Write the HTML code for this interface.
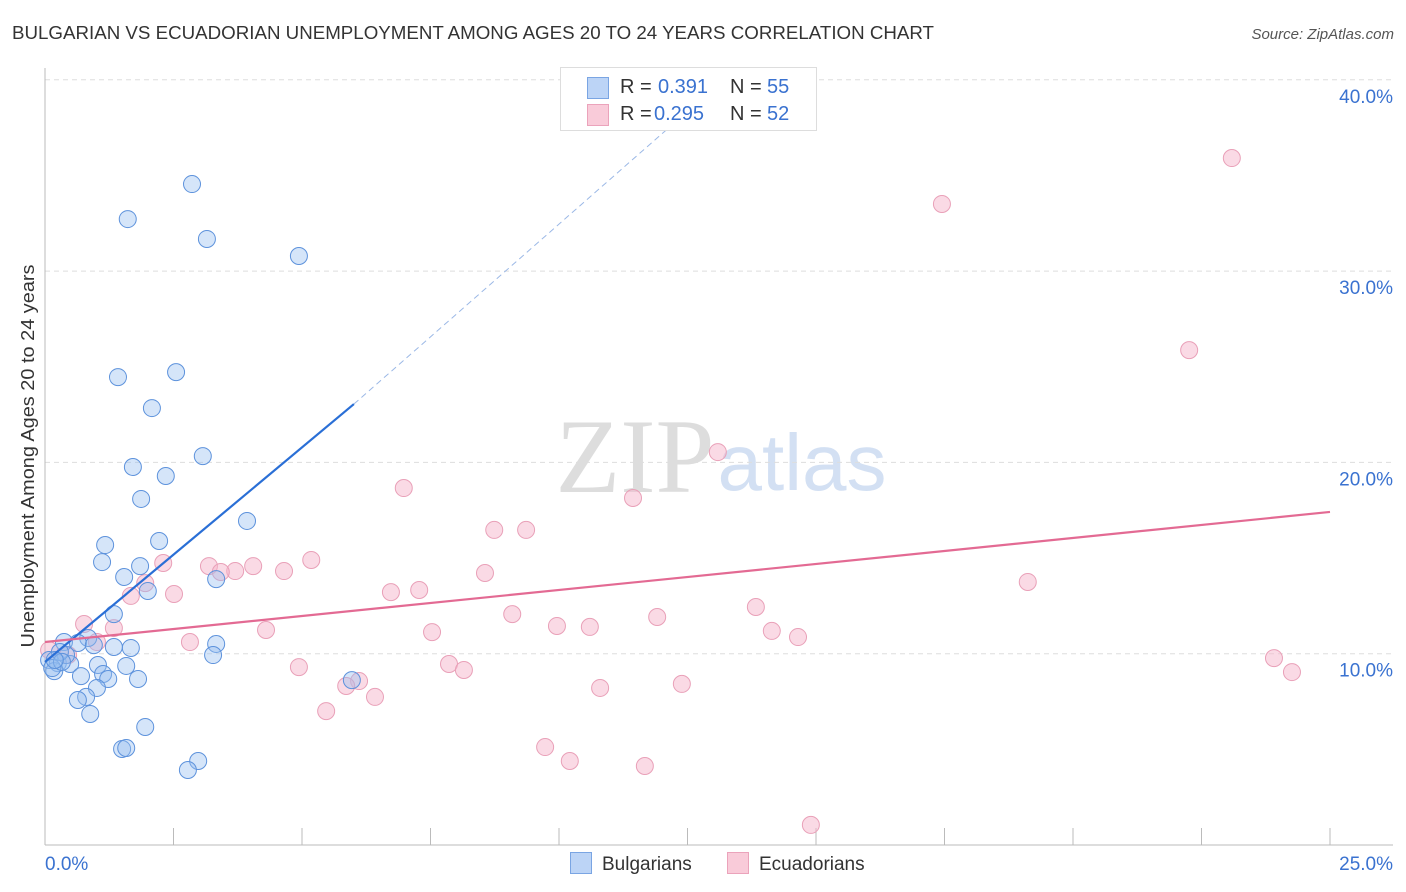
<!DOCTYPE html>
<html><head><meta charset="utf-8"><style>
body{margin:0;background:#fff;font-family:"Liberation Sans",sans-serif;}
#wrap{position:relative;width:1406px;height:892px;overflow:hidden;}
</style></head><body>
<div id="wrap">
<svg id="svg" width="1406" height="892" xmlns="http://www.w3.org/2000/svg">
<text x="12" y="39" font-size="18" fill="#333" textLength="922" lengthAdjust="spacingAndGlyphs">BULGARIAN VS ECUADORIAN UNEMPLOYMENT AMONG AGES 20 TO 24 YEARS CORRELATION CHART</text>
<text x="1394" y="39" font-size="15" fill="#555" font-style="italic" text-anchor="end">Source: ZipAtlas.com</text>
<text x="635" y="492" font-size="106" fill="#ddd" font-family="Liberation Serif,serif" text-anchor="middle">ZIP</text>
<text x="802" y="490" font-size="80" fill="#d3e0f3" text-anchor="middle">atlas</text>
<text transform="translate(34,456) rotate(-90)" font-size="18" fill="#333" text-anchor="middle" textLength="383" lengthAdjust="spacingAndGlyphs">Unemployment Among Ages 20 to 24 years</text>
<g id="grid"></g><g id="marks"></g>
</svg>
</div>
<script>
const xTicks=[0,2.5,5,7.5,10,12.5,15,17.5,20,22.5,25];
const yTicks=[10,20,30,40];
const yTickLabels=["10.0%","20.0%","30.0%","40.0%"];
const blueX=[2.86,1.61,3.15,4.94,1.42,2.55,2.08,3.07,1.71,2.35,1.87,3.93,2.22,1.17,1.11,1.85,1.54,3.33,2.00,1.34,0.37,0.84,0.64,0.95,1.34,1.67,3.33,0.08,0.25,0.49,0.41,1.03,3.27,1.58,0.18,0.70,1.13,1.23,1.81,1.01,0.80,0.64,0.88,5.97,1.95,1.50,1.58,2.98,2.78,0.29,0.14,0.33,0.19];
const blueY=[34.55,32.72,31.68,30.79,24.46,24.72,22.84,20.33,19.76,19.29,18.09,16.94,15.89,15.68,14.79,14.58,14.01,13.90,13.28,12.07,10.61,10.82,10.56,10.45,10.35,10.30,10.51,9.67,9.51,9.46,9.93,9.41,9.93,9.36,9.09,8.83,8.94,8.68,8.68,8.21,7.74,7.58,6.85,8.62,6.17,5.02,5.07,4.39,3.92,10.09,9.25,9.57,9.67];
const pinkX=[23.09,17.45,22.26,13.09,6.98,11.44,8.74,9.36,5.18,2.30,3.19,3.70,4.05,4.65,3.42,8.56,1.95,1.67,2.51,6.73,7.28,0.76,1.34,13.83,9.09,11.91,9.96,10.60,4.30,7.53,14.14,14.65,1.01,2.82,19.12,0.08,0.45,4.94,7.86,8.15,23.91,24.26,6.11,5.86,6.42,10.80,12.39,5.47,9.73,10.21,11.67,14.90];
const pinkY=[35.91,33.51,25.87,20.54,18.66,18.14,16.47,16.47,14.90,14.74,14.58,14.32,14.58,14.32,14.27,14.22,13.69,13.02,13.12,13.22,13.33,11.55,11.34,12.44,12.07,11.92,11.45,11.40,11.24,11.13,11.19,10.87,10.61,10.61,13.75,10.19,9.93,9.30,9.46,9.15,9.77,9.04,8.57,8.31,7.74,8.21,8.42,7.00,5.12,4.39,4.13,1.05];
const blueLine=[0,9.57,6.01,23.05,13.2,40];
const pinkLine=[0,10.61,25,17.41];
const X0=45,X1=1330,Y0=845,YP=19.13;
const sx=v=>X0+(X1-X0)*v/25, sy=v=>Y0-v*YP;
const NS="http://www.w3.org/2000/svg";
function mk(t,a,p){const e=document.createElementNS(NS,t);for(const k in a)e.setAttribute(k,a[k]);p.appendChild(e);return e;}
const g=document.getElementById('grid'),m=document.getElementById('marks');
yTicks.forEach((t,i)=>{
 const l=mk('line',{x1:45,x2:1393,y1:sy(t),y2:sy(t),stroke:'#ddd','stroke-dasharray':'5,4'},g);
 
 
 const tx=mk('text',{x:1393,y:sy(t)+23,'font-size':19,fill:'#3a72d0','text-anchor':'end'},g);
 tx.textContent=yTickLabels[i];
 
 
});
const ax=mk('line',{x1:45,x2:45,y1:68,y2:845,stroke:'#bbb'},g);


const bx=mk('line',{x1:45,x2:1393,y1:845,y2:845,stroke:'#bbb'},g);


xTicks.forEach(t=>{
 const l=mk('line',{x1:sx(t),x2:sx(t),y1:828,y2:845,stroke:'#bbb'},g);
 
 
});
[[0,'start','0.0%',45],[25,'end','25.0%',1393]].forEach(a=>{
 const tx=mk('text',{x:a[3],y:870,'font-size':19,fill:'#3a72d0','text-anchor':a[1]},g);
 tx.textContent=a[2];
 
 
});
function dots(xs,ys,fill,stroke,name){xs.forEach((x,i)=>{
 const c=mk('circle',{cx:sx(x),cy:sy(ys[i]),r:8.5,fill:fill,stroke:stroke,'stroke-width':1},m);
 
 
});}
dots(pinkX,pinkY,'rgba(246,182,204,0.5)','#e9a0b8','ecuadorian-point');
dots(blueX,blueY,'rgba(150,190,240,0.4)','#5d92dc','bulgarian-point');
const bl=mk('line',{x1:sx(blueLine[0]),y1:sy(blueLine[1]),x2:sx(blueLine[2]),y2:sy(blueLine[3]),stroke:'#2a6fd6','stroke-width':2.2},m);


const bd=mk('line',{x1:sx(blueLine[2]),y1:sy(blueLine[3]),x2:sx(blueLine[4]),y2:sy(blueLine[5]),stroke:'#9bb8e6','stroke-width':1,'stroke-dasharray':'6,4'},m);


const pl=mk('line',{x1:sx(pinkLine[0]),y1:sy(pinkLine[1]),x2:sx(pinkLine[2]),y2:sy(pinkLine[3]),stroke:'#e36a93','stroke-width':2.2},m);


</script>
<div style="position:absolute;left:560px;top:67px;width:255px;height:62px;background:#fff;border:1px solid #ddd;font-size:20px;color:#333;">
 <div style="position:absolute;left:26px;top:8px;width:230px;height:24px;">
  <span style="position:absolute;left:0;top:1px;width:20px;height:20px;background:#bcd4f6;border:1px solid #7aa5e3;"></span>
  <span style="position:absolute;left:33px;">R = </span><span style="position:absolute;left:71px;color:#3a72d0;">0.391</span>
  <span style="position:absolute;left:143px;">N = </span><span style="position:absolute;left:180px;color:#3a72d0;">55</span>
 </div>
 <div style="position:absolute;left:26px;top:35px;width:230px;height:24px;">
  <span style="position:absolute;left:0;top:1px;width:20px;height:20px;background:#f9cbd9;border:1px solid #eba3bb;"></span>
  <span style="position:absolute;left:33px;">R = </span><span style="position:absolute;left:67px;color:#3a72d0;">0.295</span>
  <span style="position:absolute;left:143px;">N = </span><span style="position:absolute;left:180px;color:#3a72d0;">52</span>
 </div>
</div>
<div style="position:absolute;left:570px;top:852px;font-size:19px;color:#333;">
 <span style="position:absolute;left:0;top:0;white-space:nowrap;"><span style="display:inline-block;width:20px;height:20px;background:#bcd4f6;border:1px solid #7aa5e3;vertical-align:-4px;margin-right:10px;"></span>Bulgarians</span>
 <span style="position:absolute;left:157px;top:0;white-space:nowrap;"><span style="display:inline-block;width:20px;height:20px;background:#f9cbd9;border:1px solid #eba3bb;vertical-align:-4px;margin-right:10px;"></span>Ecuadorians</span>
</div>
</body></html>
